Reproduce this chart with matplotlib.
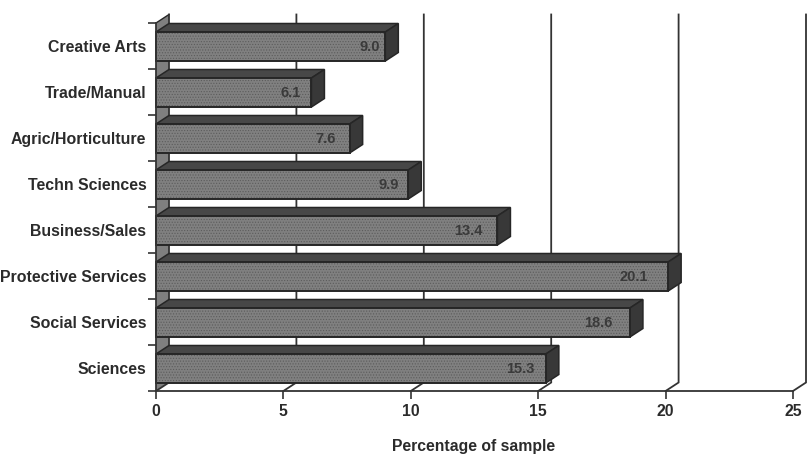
import matplotlib
matplotlib.use("Agg")
import matplotlib.pyplot as plt
from matplotlib.patches import Polygon

categories = ["Sciences", "Social Services", "Protective Services", "Business/Sales",
              "Techn Sciences", "Agric/Horticulture", "Trade/Manual", "Creative Arts"]
percentages = [15.3, 18.6, 20.1, 13.4, 9.9, 7.6, 6.1, 9.0]
x_ticks = [0, 5, 10, 15, 20, 25]

# Distance in pixels from each bar's end to the centre of its value label
label_insets = [26, 32, 34, 29, 20, 24, 21, 16]

W, H = 809, 471
LEFT, RIGHT, BOTTOM, TOP = 156, 793, 391, 23
PX_PER_UNIT = (RIGHT - LEFT) / 25
plt.rcParams["font.family"] = ["Liberation Sans", "DejaVu Sans"]
plt.rcParams["hatch.linewidth"] = 0.5

fig = plt.figure(figsize=(W / 100, H / 100), dpi=100)
ax = fig.add_axes([LEFT / W, 1 - BOTTOM / H, (RIGHT - LEFT) / W, (BOTTOM - TOP) / H])
ax.set_xlim(0, 25)
ax.set_ylim(0, 8)

# Oblique depth of the pseudo-3D box, in data units
DX = 13 / PX_PER_UNIT
DY = 8.5 / ((BOTTOM - TOP) / 8)
BAR_H = 29 / 46
BAR_Y0 = 8 / 46
EDGE = "#262626"
TEXT = "#2b2b2b"

# Left wall
ax.add_patch(Polygon([(0, 0), (DX, DY), (DX, 8 + DY), (0, 8)], closed=True,
                     facecolor="#7f7f7f", edgecolor="none", zorder=1, clip_on=False))
ax.plot([0, DX], [8, 8 + DY], color=EDGE, lw=1.0, zorder=1.2, clip_on=False)

# Back-wall gridlines with their floor diagonals
for t in x_ticks:
    ax.plot([t, t + DX, t + DX], [0, DY, 8 + DY], color="#333333", lw=1.3,
            zorder=1.5, clip_on=False, solid_joinstyle="miter")

# Front faces of the bars, stippled like a halftone print
bottoms = [i + BAR_Y0 for i in range(len(categories))]
ax.barh(bottoms, percentages, height=BAR_H, align="edge", color="#808080",
        edgecolor="none", zorder=3, clip_on=False)
ax.barh(bottoms, percentages, height=BAR_H, align="edge", facecolor="none",
        edgecolor="#5c5c5c", hatch="......", linewidth=0, zorder=3.1, clip_on=False)
ax.barh(bottoms, percentages, height=BAR_H, align="edge", facecolor="none",
        edgecolor=EDGE, linewidth=1.4, zorder=3.2, clip_on=False)

# Top and end faces, plus the value inside each bar
for y, v, inset in zip(bottoms, percentages, label_insets):
    top = y + BAR_H
    ax.add_patch(Polygon([(0, top), (DX, top + DY), (v + DX, top + DY), (v, top)],
                         closed=True, facecolor="#474747", edgecolor=EDGE,
                         linewidth=1.1, zorder=2.5, clip_on=False))
    ax.add_patch(Polygon([(v, y), (v + DX, y + DY), (v + DX, top + DY), (v, top)],
                         closed=True, facecolor="#383838", edgecolor=EDGE,
                         linewidth=1.1, zorder=2.5, clip_on=False))
    ax.text(v - inset / PX_PER_UNIT, y + BAR_H / 2 - 0.01, f"{v:.1f}", ha="center", va="center",
            fontsize=10.5, fontweight="bold", color="#3a3a3a", zorder=4)

# Axes: floor edge, left edge, ticks and labels
for side in ("top", "right"):
    ax.spines[side].set_visible(False)
for side in ("left", "bottom"):
    ax.spines[side].set_color("#333333")
    ax.spines[side].set_linewidth(1.3)
    ax.spines[side].set_zorder(5)
ax.patch.set_alpha(0)

ax.set_xticks(x_ticks)
ax.set_xticklabels([str(t) for t in x_ticks], fontsize=11.3, fontweight="bold", color=TEXT)
ax.set_yticks(range(9))
ax.set_yticklabels([])
ax.set_yticks([i + 0.49 for i in range(8)], minor=True)
ax.set_yticklabels(categories, minor=True, fontsize=11.4, fontweight="bold", color=TEXT)
ax.tick_params(axis="y", which="minor", length=0, pad=7)
ax.tick_params(axis="y", which="major", length=6, width=1.2, color="#333333")
ax.tick_params(axis="x", length=6, width=1.2, color="#333333", pad=3.5)

fig.text(474 / W, 1 - 446 / H, "Percentage of sample", ha="center", va="center",
         fontsize=11.3, fontweight="bold", color=TEXT)

fig.savefig("out.png", dpi=100)
